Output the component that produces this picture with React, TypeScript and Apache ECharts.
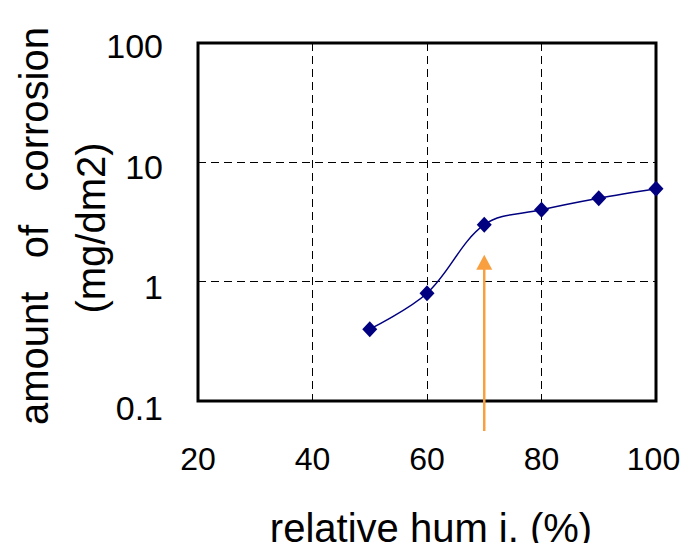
import React, { useEffect, useRef } from "react";
import * as echarts from "echarts";

// Relative humidity (%) and the measured amount of corrosion (mg/dm2)
const humidity = [50, 60, 70, 80, 90, 100];
const corrosion = [0.4, 0.8, 3, 4, 5, 6];

// Critical humidity marked by the arrow (value range the arrow spans)
const criticalHumidity = 70;
const arrowFrom = 0.056;
const arrowTo = 1.68;

const xTicks = { min: 20, max: 100, interval: 20 };
const yRange = { min: 0.1, max: 100 };

const FONT = "'Liberation Sans', Arial, sans-serif";

// y tick labels sit a little below their gridlines (0.1, 1, 10, 100)
const yLabelDrop = [14, 10, 10, 5];
const yLabelRich: Record<string, object> = {};
yLabelDrop.forEach((d, i) => {
  yLabelRich["y" + i] = {
    fontSize: 34,
    fontFamily: FONT,
    color: "#000",
    padding: [d, 0, 0, 0],
  };
});

// x tick labels: the last one is pulled in a little from the right edge
const xLabelRich = {
  n: { fontSize: 32, fontFamily: FONT, color: "#000" },
  last: { fontSize: 32, fontFamily: FONT, color: "#000", padding: [0, 5, 0, 0] },
};

export default function App() {
  const ref = useRef<HTMLDivElement>(null);

  useEffect(() => {
    if (!ref.current) return;
    const chart = echarts.init(ref.current, undefined, { renderer: "svg" });

    chart.setOption({
      animation: false,
      backgroundColor: "#ffffff",
      grid: {
        left: 198,
        right: 32,
        top: 43,
        bottom: 150,
        show: true,
        borderColor: "#000",
        borderWidth: 3,
      },
      xAxis: {
        type: "value",
        min: xTicks.min,
        max: xTicks.max,
        interval: xTicks.interval,
        axisLine: { show: false },
        axisTick: { show: false },
        axisLabel: {
          margin: 42,
          fontSize: 32,
          color: "#000",
          fontFamily: FONT,
          formatter: (v: number) => (v === xTicks.max ? `{last|${v}}` : `{n|${v}}`),
          rich: xLabelRich,
        },
        splitLine: {
          show: true,
          lineStyle: { color: "#000", width: 1, type: [8, 5] },
        },
      },
      yAxis: {
        type: "log",
        logBase: 10,
        min: yRange.min,
        max: yRange.max,
        axisLine: { show: false },
        axisTick: { show: false },
        minorTick: { show: false },
        axisLabel: {
          margin: 35,
          fontSize: 34,
          color: "#000",
          fontFamily: FONT,
          formatter: (v: number, i: number) => `{y${i}|${v}}`,
          rich: yLabelRich,
        },
        splitLine: {
          show: true,
          lineStyle: { color: "#000", width: 1, type: [8, 5] },
        },
      },
      series: [
        {
          type: "line",
          data: humidity.map((h, i) => [h, corrosion[i]]),
          smooth: 0.35,
          clip: false,
          symbol: "diamond",
          symbolSize: [15, 16],
          itemStyle: { color: "#000080" },
          lineStyle: { color: "#000080", width: 1.5 },
          z: 3,
        },
      ],
    });

    // The arrow below the 70 % point, placed through the axes' own scales
    const base = chart.convertToPixel({ gridIndex: 0 }, [criticalHumidity, arrowFrom]) as number[];
    const tip = chart.convertToPixel({ gridIndex: 0 }, [criticalHumidity, arrowTo]) as number[];
    const headH = 15;
    const headW = 8;

    chart.setOption({
      graphic: [
        {
          id: "yTitle1",
          type: "text",
          x: 34,
          y: 425,
          rotation: Math.PI / 2,
          style: {
            text: "amount   of   corrosion",
            fontSize: 40,
            fontFamily: FONT,
            fill: "#000",
            textAlign: "left",
            textVerticalAlign: "middle",
          },
        },
        {
          id: "yTitle2",
          type: "text",
          x: 91,
          y: 228,
          rotation: Math.PI / 2,
          style: {
            text: "(mg/dm2)",
            fontSize: 40,
            fontFamily: FONT,
            fill: "#000",
            textAlign: "center",
            textVerticalAlign: "middle",
          },
        },
        {
          id: "xTitle",
          type: "text",
          x: 431,
          y: 528,
          style: {
            text: "relative hum i. (%)",
            fontSize: 40,
            fontFamily: FONT,
            fill: "#000",
            textAlign: "center",
            textVerticalAlign: "middle",
          },
        },
        {
          id: "arrowShaft",
          type: "line",
          shape: { x1: base[0], y1: base[1], x2: tip[0], y2: tip[1] + headH - 1 },
          style: { stroke: "#F8A040", lineWidth: 2.5 },
          z: 10,
        },
        {
          id: "arrowHead",
          type: "polygon",
          shape: {
            points: [
              [tip[0], tip[1]],
              [tip[0] - headW, tip[1] + headH],
              [tip[0] + headW, tip[1] + headH],
            ],
          },
          style: { fill: "#F8A040" },
          z: 10,
        },
      ],
    });

    return () => chart.dispose();
  }, []);

  return <div ref={ref} style={{ width: 688, height: 551, margin: -8 }} />;
}
